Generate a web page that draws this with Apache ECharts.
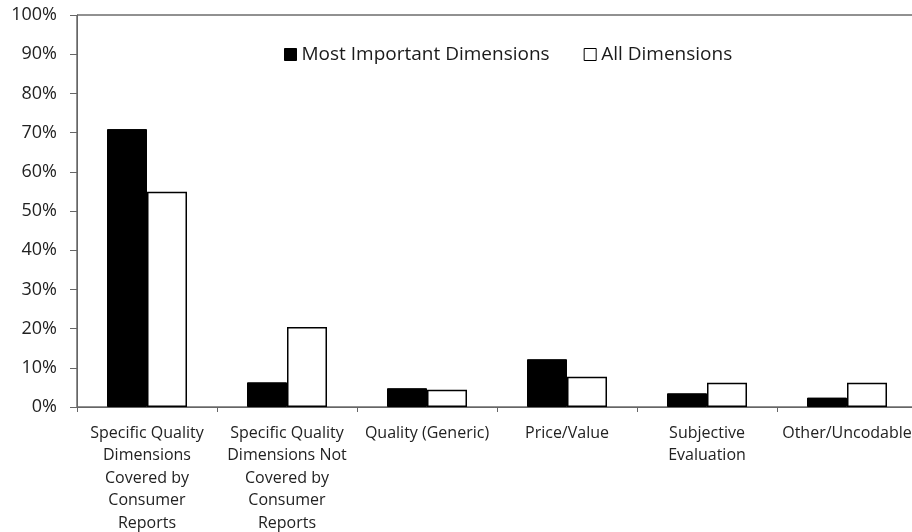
<!DOCTYPE html>
<html><head><meta charset="utf-8">
<script src="https://cdn.jsdelivr.net/npm/echarts@6/dist/echarts.min.js"></script>
<style>html,body{margin:0;padding:0;background:#fff}#c{width:912px;height:532px}</style>
</head><body><div id="c"></div>
<script>
const categories = [
  "Specific Quality\nDimensions\nCovered by\nConsumer\nReports",
  "Specific Quality\nDimensions Not\nCovered by\nConsumer\nReports",
  "Quality (Generic)",
  "Price/Value",
  "Subjective\nEvaluation",
  "Other/Uncodable"
];
const mostImportant = [70.9, 6.3, 4.8, 12.2, 3.5, 2.4];
const allDimensions = [54.9, 20.4, 4.4, 7.7, 6.2, 6.2];
const seriesNames = ["Most Important Dimensions", "All Dimensions"];

const font = "Open Sans";
const chart = echarts.init(document.getElementById('c'), null, {renderer: 'canvas'});
chart.setOption({
  animation: false,
  backgroundColor: '#fff',
  textStyle: {fontFamily: font},
  legend: {
    top: 40, left: 279,
    itemWidth: 12, itemHeight: 12, itemGap: 34,
    textStyle: {fontFamily: font, fontSize: 19, color: '#1a1a1a'},
    data: [
      {name: seriesNames[0], icon: 'rect', itemStyle: {color: '#000', borderColor: '#000', borderWidth: 1}},
      {name: seriesNames[1], icon: 'rect', itemStyle: {color: '#fff', borderColor: '#000', borderWidth: 1}}
    ]
  },
  grid: {left: 77, top: 15, width: 840, height: 392, show: true, borderColor: '#222', borderWidth: 1,
         containLabel: false, outerBoundsMode: 'none'},
  xAxis: {
    type: 'category', data: categories,
    axisLine: {lineStyle: {color: '#666', width: 1}},
    axisTick: {show: true, length: 5, alignWithLabel: false, lineStyle: {color: '#666'}},
    axisLabel: {fontFamily: font, fontSize: 16, color: '#222', margin: 15, lineHeight: 22.5, interval: 0}
  },
  yAxis: {
    type: 'value', min: 0, max: 100, interval: 10,
    axisLine: {show: true, lineStyle: {color: '#666'}},
    axisTick: {show: true, length: 7, lineStyle: {color: '#666'}},
    splitLine: {show: false},
    axisLabel: {fontFamily: font, fontSize: 18, color: '#222', margin: 20, formatter: '{value}%'}
  },
  series: [
    {name: seriesNames[0], type: 'bar', data: mostImportant, barWidth: 40, barGap: '0%',
     itemStyle: {color: '#000', borderColor: '#000', borderWidth: 1}},
    {name: seriesNames[1], type: 'bar', data: allDimensions, barWidth: 40,
     itemStyle: {color: '#fff', borderColor: '#000', borderWidth: 1.5}}
  ]
});
</script></body></html>
